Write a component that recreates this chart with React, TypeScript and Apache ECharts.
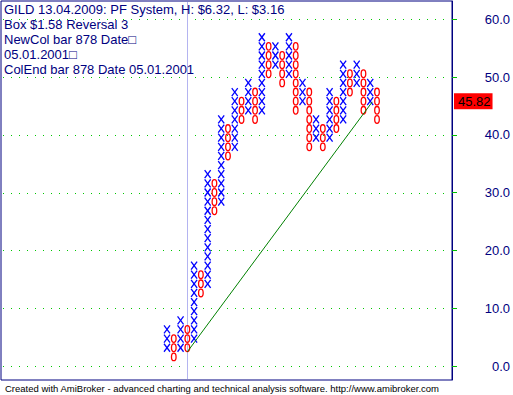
import React, { useEffect, useRef } from "react";
import * as echarts from "echarts";

// Point & Figure data (levels in boxes)
const boxSize = 1.58;
const colTypes = ["X","O","X","O","X","O","X","O","X","O","X","O","X","O","X","O","X","O","X","O","X","O","X","O","X","O","X","O","X","O","X","O"];
const colLow = [2,1,2,2,3,8,9,17,18,23,24,27,28,27,28,32,33,31,32,28,29,24,25,24,25,26,27,30,31,28,29,27];
const colHigh = [4,3,5,4,11,10,21,20,27,26,30,29,31,30,36,35,35,34,36,35,31,30,27,26,30,29,33,32,33,32,31,30];

const yTicks = [0, 10, 20, 30, 40, 50, 60];
const lastPrice = 45.82;
const separatorCol = 3;
const trendCols = [3, 30.3];
const trendPrices = [2.45, 45.7];

const titleLines = [
  "GILD 13.04.2009: PF System, H: $6.32, L: $3.16",
  "Box $1.58 Reversal 3",
  "NewCol bar 878 Date\u25a1",
  "05.01.2001\u25a1",
  "ColEnd bar 878 Date 05.01.2001",
];
const footer =
  "Created with AmiBroker - advanced charting and technical analysis software. http://www.amibroker.com";

const NAVY = "#000080";
const FONT = "Liberation Sans, Arial, sans-serif";

export default function App() {
  const ref = useRef<HTMLDivElement>(null);
  useEffect(() => {
    const chart = echarts.init(ref.current!, null, { renderer: "svg" });
    const xData: number[][] = [];
    const oData: number[][] = [];
    colTypes.forEach((t, i) => {
      for (let k = colLow[i]; k <= colHigh[i]; k++) {
        (t === "X" ? xData : oData).push([i, +(k * boxSize).toFixed(2)]);
      }
    });

    const option: any = {
      animation: false,
      backgroundColor: "#ffffff",
      title: {
        text: titleLines.join("\n"),
        left: 4,
        top: 2,
        padding: 0,
        z: 10,
        textStyle: {
          fontSize: 13,
          fontWeight: "normal",
          color: NAVY,
          fontFamily: FONT,
          lineHeight: 15,
        },
      },
      grid: {
        left: 1,
        top: 1,
        width: 451,
        height: 379,
        show: true,
        borderColor: NAVY,
        borderWidth: 1,
        backgroundColor: "transparent",
      },
      xAxis: {
        type: "value",
        min: -24.505,
        max: 42.07,
        show: false,
      },
      yAxis: {
        type: "value",
        position: "right",
        min: -2.42,
        max: 63.15,
        axisLine: { show: true, onZero: false, lineStyle: { color: NAVY, width: 1 } },
        axisTick: {
          show: true,
          length: 5,
          customValues: yTicks,
          lineStyle: { color: "#00c000" },
        },
        axisLabel: {
          customValues: yTicks,
          align: "right",
          margin: 58,
          color: NAVY,
          fontSize: 13,
          fontFamily: FONT,
          formatter: (v: number) => v.toFixed(1),
        },
        splitLine: { show: false },
      },
      graphic: [
        {
          type: "text",
          left: 5,
          top: 383,
          style: {
            text: footer,
            fontSize: 9.5,
            fill: "#000000",
            fontFamily: FONT,
          },
        },
      ],
      series: [
        {
          // dotted horizontal grid lines at the tick values
          type: "custom",
          z: 1,
          silent: true,
          data: yTicks.map((v) => [0, v]),
          renderItem: (params: any, api: any) => {
            const cs = params.coordSys;
            const p = api.coord([api.value(0), api.value(1)]);
            const y = Math.round(p[1]) + 0.5;
            return {
              type: "line",
              shape: { x1: cs.x + 2, y1: y, x2: cs.x + cs.width - 2, y2: y },
              style: { stroke: "#00c800", lineWidth: 1, lineDash: [1, 7] },
            };
          },
        },
        {
          // period separator
          type: "custom",
          z: 1,
          silent: true,
          data: [[separatorCol, 0]],
          renderItem: (params: any, api: any) => {
            const cs = params.coordSys;
            const p = api.coord([api.value(0), api.value(1)]);
            const x = Math.round(p[0]) + 0.5;
            return {
              type: "line",
              shape: { x1: x, y1: cs.y + 1, x2: x, y2: cs.y + cs.height - 1 },
              style: { stroke: "#b4b4f0", lineWidth: 1 },
            };
          },
        },
        {
          type: "custom",
          z: 2,
          data: xData,
          renderItem: (params: any, api: any) => {
            const p = api.coord([api.value(0), api.value(1)]);
            const st = { stroke: "#0000ff", lineWidth: 1.3 };
            return {
              type: "group",
              children: [
                { type: "line", shape: { x1: p[0] - 3, y1: p[1] - 4, x2: p[0] + 3, y2: p[1] + 4 }, style: st },
                { type: "line", shape: { x1: p[0] + 3, y1: p[1] - 4, x2: p[0] - 3, y2: p[1] + 4 }, style: st },
              ],
            };
          },
        },
        {
          type: "custom",
          z: 2,
          data: oData,
          renderItem: (params: any, api: any) => {
            const p = api.coord([api.value(0), api.value(1)]);
            return {
              type: "ellipse",
              shape: { cx: p[0], cy: p[1], rx: 2.3, ry: 3.8 },
              style: { stroke: "#ff0000", fill: "none", lineWidth: 1.3 },
            };
          },
        },
        {
          type: "line",
          z: 3,
          data: trendCols.map((c, i) => [c, trendPrices[i]]),
          symbol: "none",
          lineStyle: { color: "#008000", width: 1 },
        },
        {
          type: "scatter",
          data: [],
          z: 4,
          silent: true,
          markLine: {
            silent: true,
            symbol: "none",
            lineStyle: { color: "rgba(0,0,0,0)", width: 1 },
            label: {
              show: true,
              position: "end",
              distance: 2,
              formatter: lastPrice.toFixed(2),
              backgroundColor: "#ff0000",
              color: "#000000",
              fontSize: 13,
              fontFamily: FONT,
              lineHeight: 14,
              padding: [1, 2, 1, 4],
            },
            data: [{ yAxis: lastPrice }],
          },
        },
      ],
    };
    chart.setOption(option);
    return () => chart.dispose();
  }, []);
  return (
    <div
      ref={ref}
      style={{ position: "fixed", left: 0, top: 0, width: 513, height: 395, background: "#fff" }}
    />
  );
}
